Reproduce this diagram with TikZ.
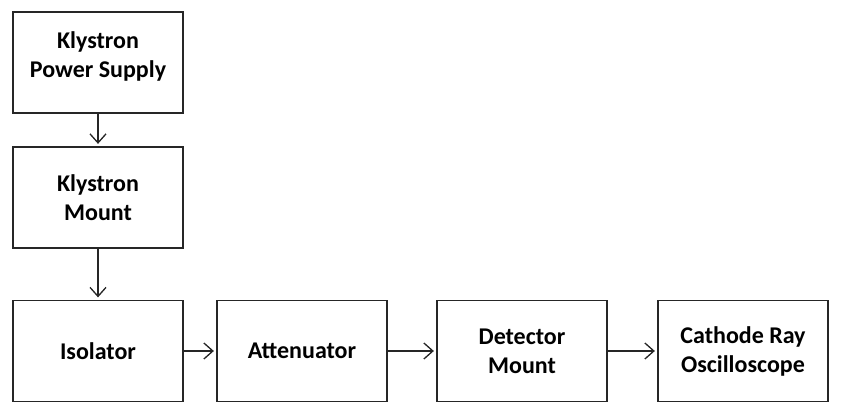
\documentclass[tikz,border=0pt]{standalone}
\usepackage{fontspec}
\setmainfont{Carlito}
\usetikzlibrary{arrows.meta}
\begin{document}
\begin{tikzpicture}[x=1pt,y=-1pt,
  blk/.style={draw=black!85,line width=1.3pt,fill=white,minimum width=170pt,minimum height=101pt,
    align=center,font=\fontsize{24}{29}\selectfont\bfseries,inner sep=0pt},
  txt/.style={align=center,font=\fontsize{24}{29}\selectfont\bfseries,inner sep=0pt},
  conn/.style={draw=black!85,line width=1.3pt,-{Straight Barb[length=9pt,width=16pt,line width=1.3pt]},shorten >=2.5pt}]
\useasboundingbox (0,0) rectangle (841,415);
\node[blk] (kps) at (98,62.5) {};
\node[txt] (kpst) at (98,56) {Klystron\\Power Supply};
\node[blk] (km) at (98,197.5) {Klystron\\Mount};
\node[blk] (iso) at (98,351) {Isolator};
\node[blk] (att) at (302,351) {Attenuator};
\node[blk] (det) at (522,351) {Detector\\Mount};
\node[blk] (cro) at (743,351) {Cathode Ray\\Oscilloscope};
\draw[conn] (kps) -- (km);
\draw[conn] (km) -- (iso);
\draw[conn] (iso) -- (att);
\draw[conn] (att) -- (det);
\draw[conn] (det) -- (cro);
\end{tikzpicture}
\end{document}
